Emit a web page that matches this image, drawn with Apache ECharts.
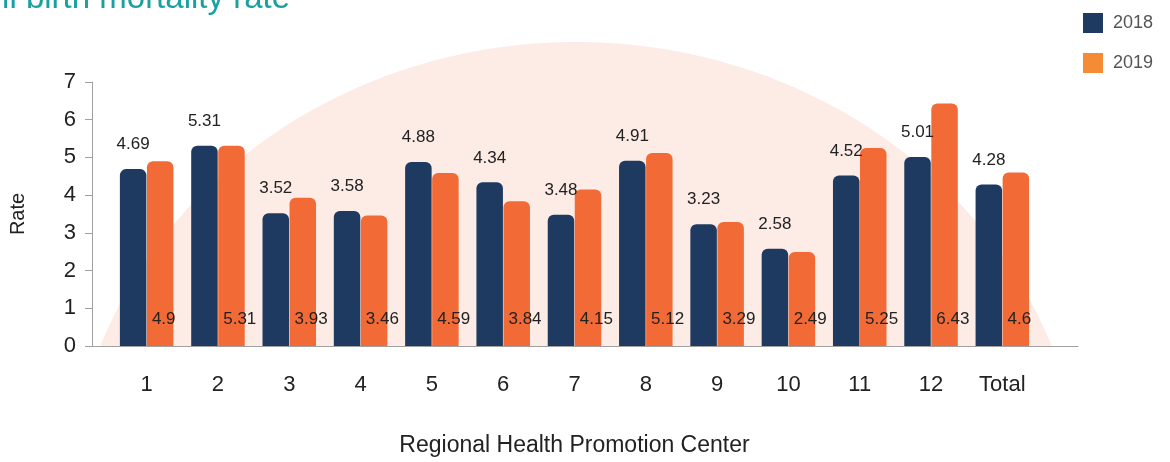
<!DOCTYPE html>
<html>
<head>
<meta charset="utf-8">
<script src="https://cdn.jsdelivr.net/npm/echarts@6/dist/echarts.min.js"></script>
<style>
  html, body { margin: 0; padding: 0; background: #fff; }
  #chart { width: 1170px; height: 462px; }
</style>
</head>
<body>
<div id="chart"></div>
<script>
// Regional centres along the horizontal axis
const categories = ['1', '2', '3', '4', '5', '6', '7', '8', '9', '10', '11', '12', 'Total'];
// Rates per year
const rates2018 = [4.69, 5.31, 3.52, 3.58, 4.88, 4.34, 3.48, 4.91, 3.23, 2.58, 4.52, 5.01, 4.28];
const rates2019 = [4.9, 5.31, 3.93, 3.46, 4.59, 3.84, 4.15, 5.12, 3.29, 2.49, 5.25, 6.43, 4.6];
const yTicks = { min: 0, max: 7, interval: 1 };

const NAVY = '#1f3a60';
const ORANGE = '#f26a36';
const FONT = '"Liberation Sans", Arial, sans-serif';

const chart = echarts.init(document.getElementById('chart'), null, { renderer: 'canvas' });

// Soft decorative dome behind the bars, cut off at the baseline
function domePoints() {
  const cx = 576, cy = 510, rx = 508, ry = 468, baseY = 346;
  const pts = [];
  for (let i = 0; i <= 200; i++) {
    const t = Math.PI + (Math.PI * i) / 200;
    const x = cx + rx * Math.cos(t);
    const y = cy + ry * Math.sin(t);
    if (y <= baseY) pts.push([x, y]);
  }
  const first = pts[0], last = pts[pts.length - 1];
  pts.unshift([first[0], baseY]);
  pts.push([last[0], baseY]);
  return pts;
}

const option = {
  animation: false,
  textStyle: { fontFamily: FONT },
  graphic: [
    {
      type: 'polygon',
      z: -10,
      silent: true,
      shape: { points: domePoints() },
      style: { fill: '#fdece6' }
    },
    {
      type: 'text',
      x: 290,
      y: 15,
      silent: true,
      style: {
        text: 'Still birth mortality rate',
        fill: '#19a0a0',
        font: '33px ' + FONT,
        align: 'right',
        verticalAlign: 'bottom'
      }
    }
  ],
  legend: {
    orient: 'vertical',
    left: 1078,
    top: 8,
    itemWidth: 20,
    itemHeight: 20,
    itemGap: 20,
    icon: 'rect',
    textStyle: { fontSize: 18, color: '#555', padding: [0, 0, 0, 5], fontFamily: FONT },
    data: [
      { name: '2018', itemStyle: { color: NAVY } },
      { name: '2019', itemStyle: { color: '#f58b35' } }
    ]
  },
  grid: [
    { left: 91, right: 92, top: 82, bottom: 116 },
    { left: 111, right: 132, top: 82, bottom: 116 }
  ],
  xAxis: [
    {
      type: 'value',
      gridIndex: 0,
      min: 0,
      max: 1,
      axisLine: { show: true, lineStyle: { color: '#a0a0a0', width: 1 } },
      axisTick: { show: false },
      axisLabel: { show: false },
      splitLine: { show: false }
    },
    {
      type: 'category',
      gridIndex: 1,
      data: categories,
      axisLine: { show: false },
      axisTick: { show: false },
      axisLabel: { fontSize: 22, color: '#222', margin: 28, fontFamily: FONT },
      name: 'Regional Health Promotion Center',
      nameLocation: 'middle',
      nameGap: 88,
      nameTextStyle: { fontSize: 23, color: '#222', fontFamily: FONT }
    }
  ],
  yAxis: [
    {
      type: 'value',
      gridIndex: 0,
      min: yTicks.min,
      max: yTicks.max,
      interval: yTicks.interval,
      axisLine: { show: true, lineStyle: { color: '#a0a0a0', width: 1 } },
      axisTick: { show: true, length: 7, lineStyle: { color: '#a0a0a0' } },
      axisLabel: { fontSize: 22, color: '#222', margin: 16, fontFamily: FONT },
      splitLine: { show: false },
      name: 'Rate',
      nameLocation: 'middle',
      nameGap: 64,
      nameTextStyle: { fontSize: 20, color: '#222', fontFamily: FONT }
    },
    {
      type: 'value',
      gridIndex: 1,
      min: yTicks.min,
      max: yTicks.max,
      interval: yTicks.interval,
      show: false
    }
  ],
  series: [
    {
      name: '2018',
      type: 'bar',
      xAxisIndex: 1,
      yAxisIndex: 1,
      data: rates2018,
      barWidth: 26.5,
      barGap: '2%',
      itemStyle: { color: NAVY, borderRadius: [6, 6, 0, 0] },
      label: {
        show: true,
        position: 'top',
        distance: 16,
        fontSize: 17,
        color: '#222',
        fontFamily: FONT
      }
    },
    {
      name: '2019',
      type: 'bar',
      xAxisIndex: 1,
      yAxisIndex: 1,
      data: rates2019,
      barWidth: 26.5,
      itemStyle: { color: ORANGE, borderRadius: [6, 6, 0, 0] },
      label: {
        show: true,
        position: 'insideBottomLeft',
        distance: 5,
        offset: [0, -13],
        fontSize: 17,
        color: '#222',
        fontFamily: FONT
      }
    }
  ]
};

chart.setOption(option);
</script>
</body>
</html>
